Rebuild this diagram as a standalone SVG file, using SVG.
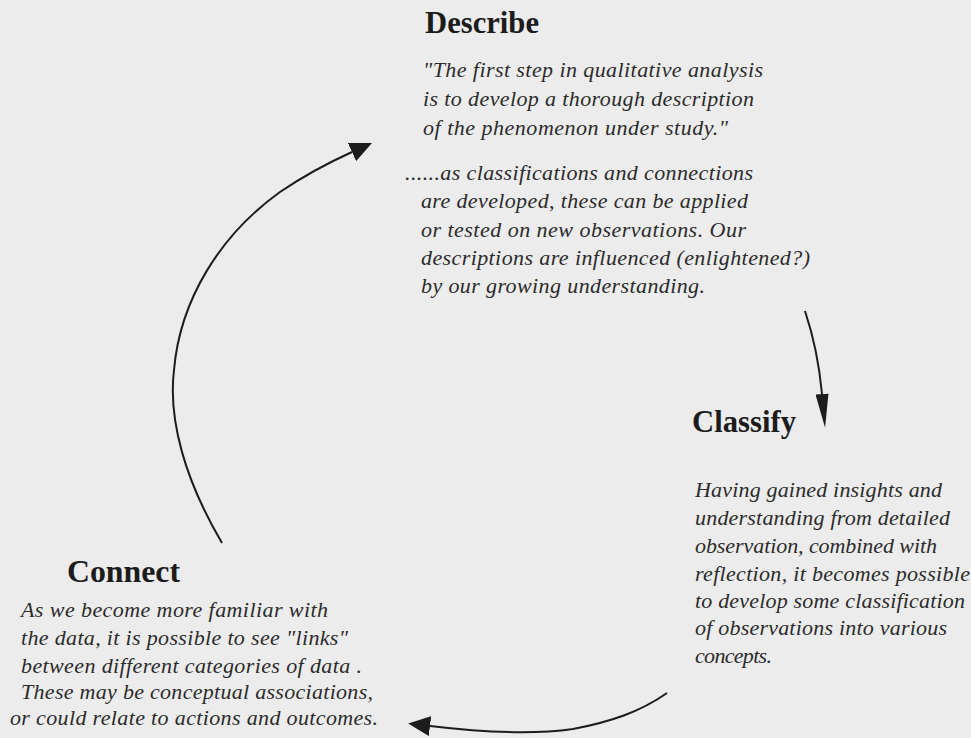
<svg xmlns="http://www.w3.org/2000/svg" width="971" height="738" viewBox="0 0 971 738">
  <style>
    .title { font-family: 'Liberation Serif', serif; font-weight: bold; font-size: 31px; fill: #1c1c1c; }
    .body { font-family: 'Liberation Serif', serif; font-style: italic; font-size: 22px; fill: #2b2b2b; }
    .flow { fill: none; stroke: #1c1c1c; stroke-width: 2; }
  </style>
  <defs>
    <marker id="head" viewBox="0 0 22 20" refX="0" refY="10" markerWidth="22" markerHeight="20" orient="auto" markerUnits="userSpaceOnUse">
      <path d="M0,0 L22,10 L0,20 Z" fill="#1c1c1c"/>
    </marker>
    <marker id="head-narrow" viewBox="0 0 34 13" refX="0" refY="6.5" markerWidth="34" markerHeight="13" orient="auto" markerUnits="userSpaceOnUse">
      <path d="M0,0 L34,6.5 L0,13 Z" fill="#1c1c1c"/>
    </marker>
  </defs>

  <rect x="0" y="0" width="971" height="738" fill="#ececec"/>

  <!-- Describe -->
  <g id="describe">
    <text class="title" x="425" y="33" textLength="114" lengthAdjust="spacingAndGlyphs">Describe</text>
    <text class="body" x="423" y="77" textLength="340" lengthAdjust="spacing">"The first step in qualitative analysis</text>
    <text class="body" x="423" y="106" textLength="331" lengthAdjust="spacing">is to develop a thorough description</text>
    <text class="body" x="423" y="135" textLength="305" lengthAdjust="spacing">of the phenomenon under study."</text>
    <text class="body" x="405" y="180" textLength="348" lengthAdjust="spacing">......as classifications and connections</text>
    <text class="body" x="421" y="208" textLength="327" lengthAdjust="spacing">are developed, these can be applied</text>
    <text class="body" x="421" y="237" textLength="325" lengthAdjust="spacing">or tested on new observations. Our</text>
    <text class="body" x="421" y="265" textLength="389" lengthAdjust="spacing">descriptions are influenced (enlightened?)</text>
    <text class="body" x="421" y="293" textLength="284" lengthAdjust="spacing">by our growing understanding.</text>
  </g>

  <!-- Classify -->
  <g id="classify">
    <text class="title" x="692" y="432" textLength="104" lengthAdjust="spacingAndGlyphs">Classify</text>
    <text class="body" x="695" y="497" textLength="247" lengthAdjust="spacing">Having gained insights and</text>
    <text class="body" x="695" y="525" textLength="255" lengthAdjust="spacing">understanding from detailed</text>
    <text class="body" x="695" y="553" textLength="242" lengthAdjust="spacing">observation, combined with</text>
    <text class="body" x="695" y="581" textLength="275" lengthAdjust="spacing">reflection, it becomes possible</text>
    <text class="body" x="695" y="608" textLength="270" lengthAdjust="spacing">to develop some classification</text>
    <text class="body" x="695" y="635" textLength="252" lengthAdjust="spacing">of observations into various</text>
    <text class="body" x="695" y="663" textLength="77" lengthAdjust="spacing">concepts.</text>
  </g>

  <!-- Connect -->
  <g id="connect">
    <text class="title" x="67" y="582" textLength="113" lengthAdjust="spacingAndGlyphs">Connect</text>
    <text class="body" x="21" y="617" textLength="307" lengthAdjust="spacing">As we become more familiar with</text>
    <text class="body" x="21" y="645" textLength="327" lengthAdjust="spacing">the data, it is possible to see "links"</text>
    <text class="body" x="21" y="673" textLength="341" lengthAdjust="spacing">between different categories of data .</text>
    <text class="body" x="21" y="699" textLength="352" lengthAdjust="spacing">These may be conceptual associations,</text>
    <text class="body" x="10" y="725" textLength="368" lengthAdjust="spacing">or could relate to actions and outcomes.</text>
  </g>

  <!-- Cycle arrows -->
  <g id="connectors">
    <path class="flow" d="M805,311 Q818,350 822,394" marker-end="url(#head-narrow)"/>
    <path class="flow" d="M667,693 C640,712 610,722 573,729 C530,735 480,732 430,726" marker-end="url(#head)"/>
    <path class="flow" d="M222,543 C185,480 168,420 174,370 C180,300 220,235 280,192 C305,175 330,162 352,152" marker-end="url(#head)"/>
  </g>
</svg>
